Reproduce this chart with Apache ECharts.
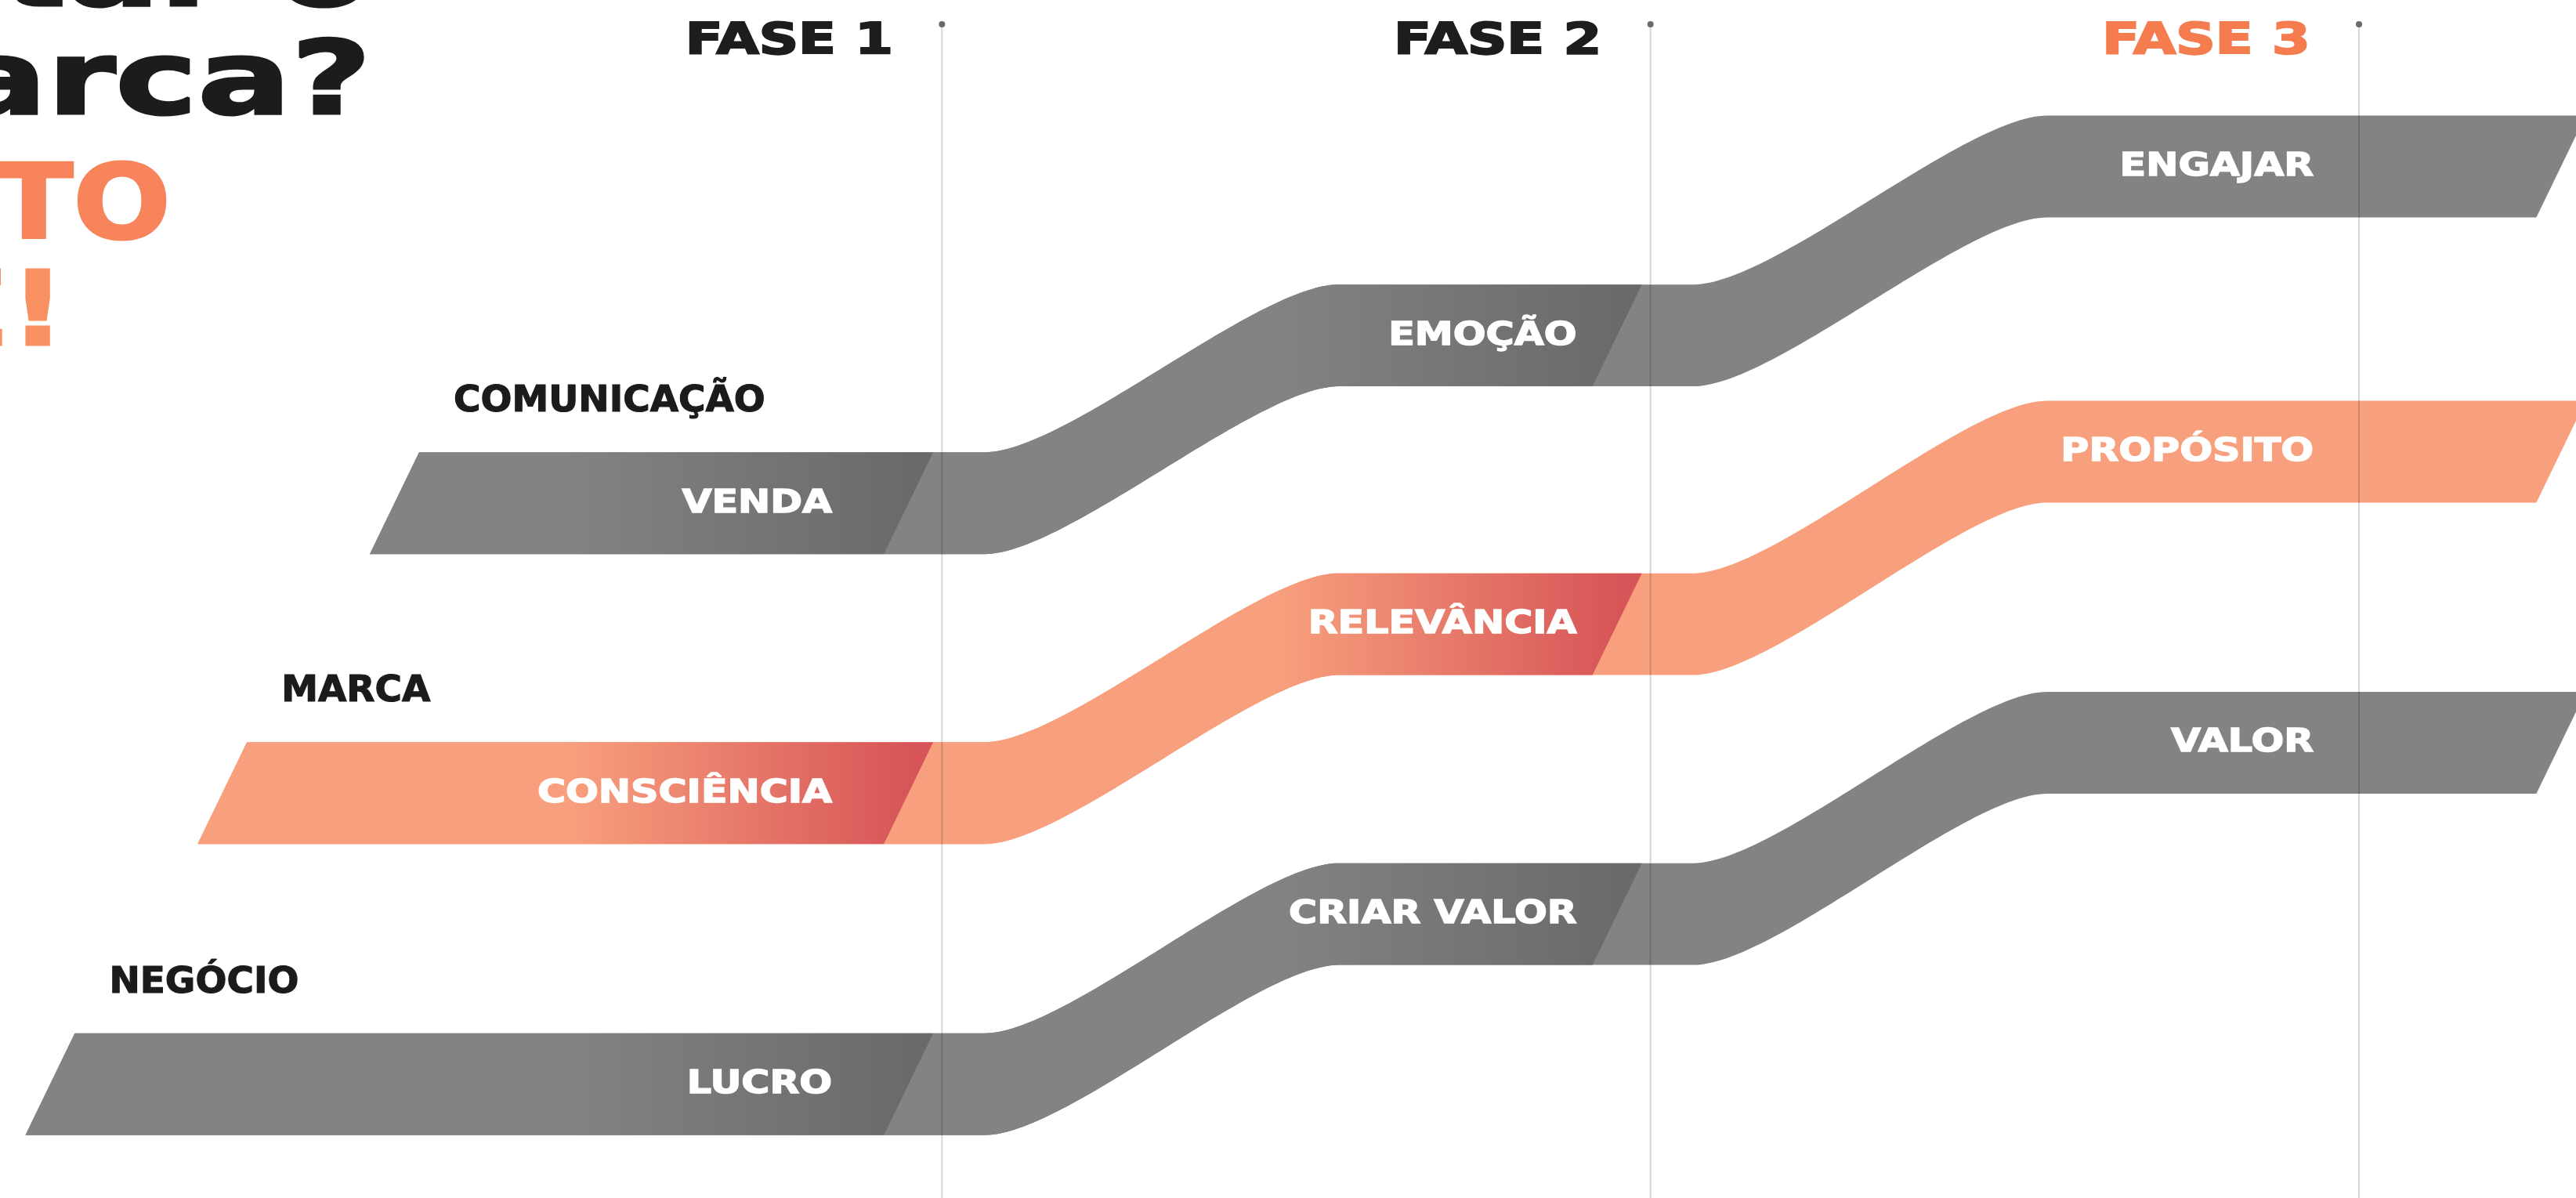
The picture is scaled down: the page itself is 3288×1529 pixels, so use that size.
<!DOCTYPE html>
<html>
<head>
<meta charset="utf-8">
<title>Fases</title>
<script src="https://cdn.jsdelivr.net/npm/echarts@6/dist/echarts.min.js"></script>
<style>
  html, body { margin: 0; padding: 0; background: #fff; overflow: hidden; }
  #chart { width: 3288px; height: 1529px; }
</style>
</head>
<body>
<div id="chart"></div>
<script>
// fases: linhas verticais em x = 1, 2, 3
var phases = ['FASE 1', 'FASE 2', 'FASE 3'];
var phaseColors = ['#1d1d1d', '#1d1d1d', '#f47c4f'];

// trilhas (eixo y de 0 a 100, de baixo para cima)
var tracks = ['COMUNICAÇÃO', 'MARCA', 'NEGÓCIO'];
var trackStart = [0.262, 0.019, -0.224];
var trackEnd = 3.32;
var comunicacaoLevels = [58, 72, 86.1];
var marcaLevels = [33.8, 47.9, 62.3];
var negocioLevels = [9.5, 23.7, 38];
var comunicacaoSteps = ['VENDA', 'EMOÇÃO', 'ENGAJAR'];
var marcaSteps = ['CONSCIÊNCIA', 'RELEVÂNCIA', 'PROPÓSITO'];
var negocioSteps = ['LUCRO', 'CRIAR VALOR', 'VALOR'];

var trackLevels = [comunicacaoLevels, marcaLevels, negocioLevels];
var trackSteps = [comunicacaoSteps, marcaSteps, negocioSteps];
var trackTheme = ['gray', 'orange', 'gray'];

var themes = {
  gray: { base: '#838383', dark: '#6b6a6a' },
  orange: { base: '#f8a07d', dark: '#d75558' }
};

// estilo da faixa
var BAND = 8.5;          // espessura, em unidades do eixo y
var SLANT = 63;          // px, corte inclinado
var DIV_TOP = 11;        // px antes da linha da fase
var DIV_BOT = 74;
var CURVE_IN = 0.06;     // inicio/fim da curva depois da linha
var CURVE_OUT = 0.56;
var CURVE_EASE = 0.23;
var GRAD_W = 470;
var LABEL_OFFSET = [-0.155, -0.104, -0.064];
var FASE_GAP = 0.069;
var LINE_TOP = 31;

var chart = echarts.init(document.getElementById('chart'));

function sCurve(x0, y0, x1, y1, n) {
  var a = CURVE_EASE * (x1 - x0);
  var pts = [];
  for (var i = 0; i <= n; i++) {
    var t = i / n, mt = 1 - t;
    var x = mt * mt * mt * x0 + 3 * mt * mt * t * (x0 + a) + 3 * mt * t * t * (x1 - a) + t * t * t * x1;
    var y = mt * mt * mt * y0 + 3 * mt * mt * t * y0 + 3 * mt * t * t * y1 + t * t * t * y1;
    pts.push([x, y]);
  }
  return pts;
}

function renderRibbon(params, api) {
  var i = params.dataIndex;
  var th = themes[trackTheme[i]];
  var band = api.size([0, BAND])[1];
  var half = band / 2;
  var b = [1, 2, 3].map(function (k) { return api.coord([k, 0])[0]; });
  var unit = b[1] - b[0];
  var ys = [1, 2, 3].map(function (d) { return api.coord([0, api.value(d)])[1]; });
  var x0 = api.coord([api.value(0), 0])[0];
  var x1 = api.coord([trackEnd, 0])[0];

  var top = [[x0, ys[0] - half]];
  for (var k = 0; k < 2; k++) {
    top = top.concat(sCurve(b[k] + CURVE_IN * unit, ys[k] - half, b[k] + CURVE_OUT * unit, ys[k + 1] - half, 60));
  }
  top.push([x1, ys[2] - half]);
  var bottom = top.map(function (p) { return [p[0], p[1] + band]; });
  bottom[0][0] = x0 - SLANT;
  bottom[bottom.length - 1][0] = x1 - SLANT;

  var children = [{
    type: 'polygon',
    shape: { points: top.concat(bottom.slice().reverse()) },
    style: { fill: th.base }
  }];

  // paineis com degrade ate o corte de cada fase
  for (var p = 0; p < 2; p++) {
    var lt = p === 0 ? x0 : b[p - 1] - DIV_TOP;
    var lb = p === 0 ? x0 - SLANT : b[p - 1] - DIV_BOT;
    var rt = b[p] - DIV_TOP;
    var rb = b[p] - DIV_BOT;
    var ly = ys[Math.max(p - 1, 0)] - half;
    var ry = ys[p] - half;
    var tp = [[lt, ly]].concat(top.filter(function (q) { return q[0] > lt && q[0] < rt; }), [[rt, ry]]);
    var bp = [[lb, ly + band]].concat(bottom.filter(function (q) { return q[0] > lb && q[0] < rb; }), [[rb, ry + band]]);
    children.push({
      type: 'polygon',
      shape: { points: tp.concat(bp.reverse()) },
      style: {
        fill: {
          type: 'linear', global: true,
          x: rt - GRAD_W, y: 0, x2: rt - SLANT / 2, y2: 0,
          colorStops: [{ offset: 0, color: th.base }, { offset: 1, color: th.dark }]
        }
      }
    });
  }

  children.push({
    type: 'text',
    x: x0 + 44,
    y: ys[0] - half - 64,
    style: {
      text: tracks[i], fill: '#1b1b1b', stroke: '#1b1b1b', lineWidth: 1.2,
      align: 'left', verticalAlign: 'middle',
      fontFamily: 'DejaVu Sans', fontWeight: 'bold', fontSize: 47
    }
  });

  for (var s = 0; s < 3; s++) {
    children.push({
      type: 'text',
      x: api.coord([s + 1 + LABEL_OFFSET[s], 0])[0],
      y: ys[s] + 1,
      scaleX: 1.23,
      style: {
        text: trackSteps[i][s], fill: '#ffffff', stroke: '#ffffff', lineWidth: 1.4,
        align: 'right', verticalAlign: 'middle',
        fontFamily: 'DejaVu Sans', fontWeight: 'bold', fontSize: 40
      }
    });
  }
  return { type: 'group', children: children };
}

function renderPhase(params, api) {
  var i = params.dataIndex;
  var x = api.coord([api.value(0), 0])[0];
  var yBottom = api.coord([0, 0])[1];
  return {
    type: 'group',
    children: [
      { type: 'line', shape: { x1: x, y1: LINE_TOP, x2: x, y2: yBottom }, style: { stroke: 'rgba(0,0,0,0.16)', lineWidth: 2 } },
      { type: 'circle', shape: { cx: x, cy: LINE_TOP, r: 4 }, style: { fill: '#6a6a6a' } },
      {
        type: 'text',
        x: api.coord([api.value(0) - FASE_GAP, 0])[0],
        y: 53,
        scaleX: 1.25,
        style: {
          text: phases[i], fill: phaseColors[i], stroke: phaseColors[i], lineWidth: 2.2,
          align: 'right', verticalAlign: 'middle',
          fontFamily: 'DejaVu Sans', fontWeight: 'bold', fontSize: 56
        }
      }
    ]
  };
}

function titleLine(text, x, y, size, sx, color) {
  return {
    type: 'text', x: x, y: y, scaleX: sx,
    style: {
      text: text, fill: color, stroke: color, lineWidth: 3,
      align: 'right', verticalAlign: 'middle',
      fontFamily: 'DejaVu Sans', fontWeight: 'bold', fontSize: size
    }
  };
}

chart.setOption({
  animation: false,
  backgroundColor: '#ffffff',
  grid: { left: 298, right: 277, top: 0, bottom: 0 },
  xAxis: { type: 'value', min: 0, max: 3, show: false },
  yAxis: { type: 'value', min: 0, max: 100, show: false },
  graphic: [
    titleLine('Como despertar o', 474, -27, 130, 1.36, '#1c1c1c'),
    titleLine('valor da marca?', 474, 111, 130, 1.36, '#1c1c1c'),
    titleLine('É MUITO', 218, 270, 131, 1.12, '#f7845a'),
    titleLine('IMPORTANTE!', 84, 406, 131, 1.2, '#f89062')
  ],
  series: [
    {
      type: 'custom',
      clip: false,
      renderItem: renderRibbon,
      data: tracks.map(function (t, i) {
        return { name: t, value: [trackStart[i]].concat(trackLevels[i]) };
      })
    },
    {
      type: 'custom',
      clip: false,
      z: 5,
      renderItem: renderPhase,
      data: phases.map(function (p, i) { return { name: p, value: [i + 1] }; })
    }
  ]
});
</script>
</body>
</html>
